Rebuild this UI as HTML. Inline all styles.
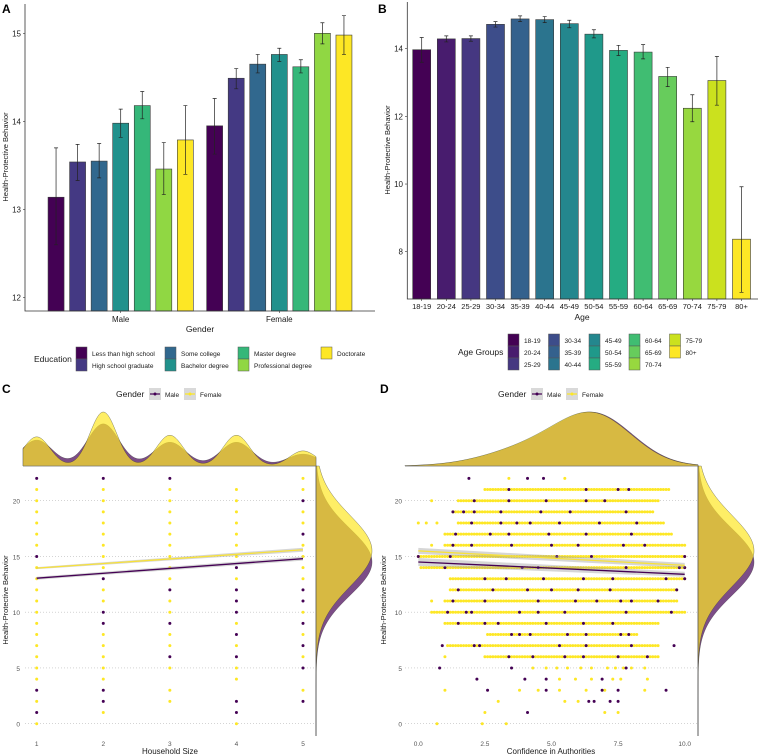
<!DOCTYPE html>
<html><head><meta charset="utf-8">
<style>
html,body{margin:0;padding:0;background:#fff;}
svg{display:block;font-family:"Liberation Sans",Arial,sans-serif;}
</style></head>
<body>
<svg id="fig" width="758" height="756" viewBox="0 0 758 756" xmlns="http://www.w3.org/2000/svg"></svg>
<script>
// ---------- DATA ----------
const eduCats = ["Less than high school","High school graduate","Some college","Bachelor degree","Master degree","Professional degree","Doctorate"];
const eduColors = ["#440154","#443983","#31688e","#21918c","#35b779","#90d743","#fde725"];
const genderCats = ["Male","Female"];
const maleMeans = [13.14,13.54,13.55,13.98,14.18,13.46,13.79];
const maleLo = [12.6,13.33,13.36,13.82,14.03,13.17,13.4];
const maleHi = [13.7,13.74,13.75,14.14,14.34,13.76,14.18];
const femaleMeans = [13.95,14.49,14.65,14.76,14.62,15.0,14.98];
const femaleLo = [13.63,14.37,14.55,14.68,14.55,14.88,14.76];
const femaleHi = [14.26,14.6,14.76,14.83,14.7,15.12,15.2];
const aTicks = [12,13,14,15];

const ageCats = ["18-19","20-24","25-29","30-34","35-39","40-44","45-49","50-54","55-59","60-64","65-69","70-74","75-79","80+"];
const ageColors = ["#440154","#481c6e","#453781","#3d4d8a","#34618d","#2b748e","#24878e","#1f998a","#25ac82","#40bd72","#67cc5c","#97d83f","#cbe11e","#fde725"];
const ageMeans = [13.97,14.29,14.3,14.72,14.88,14.86,14.74,14.43,13.95,13.9,13.18,12.24,13.06,8.37];
const ageLo = [13.6,14.2,14.22,14.64,14.8,14.77,14.62,14.32,13.8,13.7,12.88,11.84,12.33,6.8];
const ageHi = [14.33,14.38,14.38,14.8,14.97,14.95,14.84,14.56,14.1,14.12,13.45,12.64,13.77,9.92];
const bTicks = [8,10,12,14];

const cFemaleX = [1,2,3,4,5];
const cFemaleY = [
 [21,20,19,18,17,16,14,13,12,11,10,9,8,7,6,5,4,2,0],
 [21,20,19,18,17,16,15,14,12,11,8,7,6,5,4,1],
 [21,20,19,18,17,16,15,14,13,11,10,8,7,5,3,2],
 [21,20,19,18,17,16,15,13,9,7,5,4,0],
 [22,21,19,18,16,15,14,13,10,8,6,3]];
const cMaleY = [
 [22,15,3,1],
 [22,13,10,9,3,2],
 [22,12,9,6],
 [14,12,11,10,8,6,2,1],
 [20,17,12,11,9,7,5,2]];
const cFemaleFit = [13.95,15.6];
const cMaleFit = [13.05,14.8];
const cTopFemaleH = [0.54,1.0,0.57,0.57,0.28];
const cTopMaleH = [0.48,0.78,0.44,0.44,0.22];
const cxTicks = [1,2,3,4,5];
const cyTicks = [0,5,10,15,20];

const dRowY = [22,21,20,19,18,17,16,15,14,13,12,11,10,9,8,7,6,5,4,3,2,1,0];
const dFemaleRange = [null,[2.5,9.4],[1.5,9.0],[1.3,8.8],[1.5,9.2],[1.0,9.5],[1.0,10.0],[0.0,10.0],[0.1,10.0],[1.2,10.0],[1.2,9.7],[1.0,9.7],[0.5,10.0],[1.0,9.0],[2.6,8.2],[1.1,9.0],[2.5,9.0],null,null,null,null,null,null];
const dFemaleExtra = [[3.4,5.5],[],[0.5],[],[0.0,0.3,0.7],[],[0.5],[],[],[],[],[0.5],[],[],[],[],[1.0],[4.3,4.8,5.2,5.6,6.1,6.5,7.1,7.4,7.7,8.0,8.5],[5.3,5.9,6.5,7.3,7.6,8.6],[1.0,3.8,4.5,5.3,6.3,7.0,8.5],[3.0,5.5,6.0],[2.5,7.0,7.5],[0.7,2.4,3.3]];
const dMaleX = [[1.9,4.1,4.7],[3.4,6.3,7.5,7.9],[2.1,3.4,4.8,6.3,7.0],[1.3,1.7,2.1,3.1,4.6,5.7,7.8],[2.0,3.1,3.7,4.2,5.3,6.8,8.2],[1.4,2.7,3.4,4.9,6.3,8.0],[1.3,2.0,3.5,5.0,6.0,7.7,8.5],[0.0,1.2,5.2,6.5,10.0],[1.0,3.9,4.5,7.8,9.8,10.0],[2.5,3.3,4.7,6.2,7.3,9.3,10.0],[1.5,2.8,4.1,5.0,6.0,7.2,9.7],[1.3,2.5,4.5,5.9,6.7,7.6,8.0,9.0],[1.1,1.8,2.0,3.8,4.5,5.5,7.8,9.5],[1.5,2.5,3.0,4.8,6.2,7.3],[3.5,3.8,4.2,5.6,6.3,7.6,7.9],[0.9,2.1,2.3,5.3,6.3,8.0,9.6],[3.4,4.3,5.5,6.2,7.5,8.6],[0.8,3.5,7.8],[2.2,4.0,4.8,6.9],[2.6,4.8,6.9,7.5,9.3],[6.4,6.6,7.2,7.5],[4.1],[]];
const dFemaleFit = [15.5,14.2];
const dMaleFit = [14.5,13.4];
const dxTicks = [0,2.5,5,7.5,10];
const dxTickLabels = ["0.0","2.5","5.0","7.5","10.0"];
const dTopComp = [[6.7,1.4,1.0],[4.5,1.8,0.45]];
const rightFemaleComp = [[15.5,3.2,1.0]];
const rightMaleComp = [[14.5,3.0,1.0]];

// ---------- HELPERS ----------
const NS="http://www.w3.org/2000/svg";
const svg=document.getElementById('fig');
function mk(tag,attrs,parent,name,inter){
  const e=document.createElementNS(NS,tag);
  for(const k in attrs) e.setAttribute(k,attrs[k]);
  
  
  (parent||svg).appendChild(e); return e;
}
function txt(x,y,s,size,anchor,parent,name,extra){
  const t=mk('text',Object.assign({x:x,y:y,'font-size':size,'text-anchor':anchor||'start',fill:'#1a1a1a'},extra||{}),parent,name,false);
  t.textContent=s; return t;
}
function lin(d0,d1,r0,r1){return v=>r0+(v-d0)*(r1-r0)/(d1-d0);}
function gauss(x,m,s){return Math.exp(-(x-m)*(x-m)/(2*s*s));}

// ---------- PANEL A ----------
(function(){
  const g=mk('g',{},svg,'panel-a',false);
  txt(2,13,'A',12,'start',g,'panel-a-label',{'font-weight':'bold',fill:'#000'});
  const y=lin(12,15,297.7,33.3);
  const grpX=[120.7,279.3], step=21.55, bw=16;
  aTicks.forEach(t=>{
    txt(21,y(t)+3,String(t),8,'end',g,'a-y-tick-label');
    mk('line',{x1:23,x2:25,y1:y(t),y2:y(t),stroke:'#333','stroke-width':0.6},g,'a-y-tick',false);
  });
  const sets=[[maleMeans,maleLo,maleHi],[femaleMeans,femaleLo,femaleHi]];
  sets.forEach((s,gi)=>{
    s[0].forEach((v,i)=>{
      const cx=grpX[gi]+(i-3)*step;
      mk('rect',{x:cx-bw/2,y:y(v),width:bw,height:311-y(v),fill:eduColors[i],stroke:'#3a3a3a','stroke-width':0.6},g,'bar-'+genderCats[gi].toLowerCase()+'-'+i,true);
      mk('path',{d:`M${cx-2},${y(s[2][i])}H${cx+2}M${cx},${y(s[2][i])}V${y(s[1][i])}M${cx-2},${y(s[1][i])}H${cx+2}`,stroke:'#222','stroke-width':0.7,fill:'none'},g,'error-bar',false);
    });
    txt(grpX[gi],322,genderCats[gi],8,'middle',g,'a-x-tick-label');
    mk('line',{x1:grpX[gi],x2:grpX[gi],y1:311,y2:313,stroke:'#333','stroke-width':0.6},g,'a-x-tick',false);
  });
  mk('path',{d:'M25,4V311H375',stroke:'#333','stroke-width':0.8,fill:'none'},g,'a-axes',false);
  txt(200,332,'Gender',8.5,'middle',g,'a-x-axis-title');
  txt(0,0,'Health-Protective Behavior',7.5,'middle',g,'a-y-axis-title',{transform:'translate(8,157) rotate(-90)'});
  txt(34,362,'Education',8.5,'start',g,'a-legend-title');
  const cols=[76,165,238,321];
  eduCats.forEach((c,i)=>{
    const col=Math.floor(i/2), row=i%2;
    const ky=347+row*12;
    mk('rect',{x:cols[col],y:ky,width:11,height:12,fill:eduColors[i],stroke:'#555','stroke-width':0.5},g,'a-legend-key',true);
    txt(cols[col]+16,ky+9,c,6.5,'start',g,'a-legend-label');
  });
})();

// ---------- PANEL B ----------
(function(){
  const g=mk('g',{},svg,'panel-b',false);
  txt(378,13,'B',12,'start',g,'panel-b-label',{'font-weight':'bold',fill:'#000'});
  const y=lin(8,14,251.7,48.7);
  const x0=421.7, step=24.6, bw=18, base=299;
  bTicks.forEach(t=>{
    txt(403,y(t)+3,String(t),8,'end',g,'b-y-tick-label');
    mk('line',{x1:405,x2:407.3,y1:y(t),y2:y(t),stroke:'#333','stroke-width':0.6},g,'b-y-tick',false);
  });
  ageMeans.forEach((v,i)=>{
    const cx=x0+i*step;
    mk('rect',{x:cx-bw/2,y:y(v),width:bw,height:base-y(v),fill:ageColors[i],stroke:'#3a3a3a','stroke-width':0.6},g,'bar-age-'+ageCats[i],true);
    mk('path',{d:`M${cx-2},${y(ageHi[i])}H${cx+2}M${cx},${y(ageHi[i])}V${y(ageLo[i])}M${cx-2},${y(ageLo[i])}H${cx+2}`,stroke:'#222','stroke-width':0.7,fill:'none'},g,'error-bar',false);
    txt(cx,309,ageCats[i],7.5,'middle',g,'b-x-tick-label');
    mk('line',{x1:cx,x2:cx,y1:base,y2:base+2,stroke:'#333','stroke-width':0.6},g,'b-x-tick',false);
  });
  mk('path',{d:`M407.3,2V${base}H758`,stroke:'#333','stroke-width':0.8,fill:'none'},g,'b-axes',false);
  txt(582,320,'Age',8.5,'middle',g,'b-x-axis-title');
  txt(0,0,'Health-Protective Behavior',7.5,'middle',g,'b-y-axis-title',{transform:'translate(390,150) rotate(-90)'});
  txt(458,355,'Age Groups',8.5,'start',g,'b-legend-title');
  const cols=[508,548.5,589,629,669.5];
  ageCats.forEach((c,i)=>{
    const col=Math.floor(i/3), row=i%3;
    const ky=334+row*12;
    mk('rect',{x:cols[col],y:ky,width:11,height:12,fill:ageColors[i],stroke:'#555','stroke-width':0.5},g,'b-legend-key',true);
    txt(cols[col]+16,ky+9,c,6.5,'start',g,'b-legend-label');
  });
})();

const PURPLE='#440154', YELLOW='#fde725';
function genderLegend(g,x0,prefix){
  txt(x0,397,'Gender',8.5,'start',g,prefix+'-legend-title');
  [[PURPLE,'Male'],[YELLOW,'Female']].forEach((k,i)=>{
    const kx=x0+33+i*35;
    mk('rect',{x:kx,y:388,width:12,height:12,fill:'#d9d9d9'},g,prefix+'-legend-key',true);
    mk('line',{x1:kx+1,x2:kx+11,y1:394,y2:394,stroke:k[0],'stroke-width':1.2},g,prefix+'-legend-line',false);
    mk('circle',{cx:kx+6,cy:394,r:1.5,fill:k[0]},g,prefix+'-legend-dot',false);
    txt(kx+16,397,k[1],6.5,'start',g,prefix+'-legend-label');
  });
}
function rightDensity(g,bx,ytop,ybot,ys,prefix){
  const fm=v=>rightFemaleComp.reduce((a,c)=>a+c[2]*gauss(v,c[0],c[1]),0);
  const mm=v=>rightMaleComp.reduce((a,c)=>a+c[2]*gauss(v,c[0],c[1]),0);
  const W=56;
  function path(f){
    let d=`M${bx},${ybot}`;
    for(let py=ybot;py>=ytop;py-=1){const v=ys.inv(py);d+=`L${bx+W*f(v)},${py}`;}
    return d+`L${bx},${ytop}Z`;
  }
  mk('path',{d:path(mm),fill:PURPLE,'fill-opacity':0.7,stroke:'#333','stroke-width':0.3},g,prefix+'-right-density-male',false);
  mk('path',{d:path(fm),fill:YELLOW,'fill-opacity':0.7,stroke:'#333','stroke-width':0.3},g,prefix+'-right-density-female',false);
}
function fitLine(g,xs,ys,x0,x1,fit,color,name,ci){
  const xa=xs(x0),xb=xs(x1),ya=ys(fit[0]),yb=ys(fit[1]);
  mk('path',{d:`M${xa},${ya-ci[0]}L${xb},${yb-ci[1]}L${xb},${yb+ci[1]}L${xa},${ya+ci[0]}Z`,fill:'#999','fill-opacity':0.4},g,name+'-ci',false);
  mk('line',{x1:xa,y1:ya,x2:xb,y2:yb,stroke:color,'stroke-width':1.3},g,name,false);
}

// ---------- PANEL C ----------
(function(){
  const g=mk('g',{},svg,'panel-c',false);
  txt(2,393,'C',12,'start',g,'panel-c-label',{'font-weight':'bold',fill:'#000'});
  genderLegend(g,116,'c');
  const xs=lin(1,5,36.7,303), ys=lin(0,20,723.7,500.7);
  ys.inv=lin(723.7,500.7,0,20);
  cyTicks.forEach(t=>{
    mk('line',{x1:25,x2:316,y1:ys(t),y2:ys(t),stroke:'#bbb','stroke-width':0.6,'stroke-dasharray':'1,2'},g,'c-gridline',false);
    txt(20,ys(t)+3,String(t),6.5,'end',g,'c-y-tick-label',{fill:'#555'});
  });
  cxTicks.forEach(t=>txt(xs(t),746,String(t),6.5,'middle',g,'c-x-tick-label',{fill:'#555'}));
  const base=466, H=54;
  const fF=v=>cTopFemaleH.reduce((a,h,i)=>a+h*gauss(v,cFemaleX[i],0.2),0);
  const fM=v=>cTopMaleH.reduce((a,h,i)=>a+h*gauss(v,cFemaleX[i],0.24),0);
  function tp(f){let d=`M23,${base}`;for(let px=23;px<=316;px++){d+=`L${px},${base-H*f((px-36.7)/66.575+1)}`;}return d+`L316,${base}Z`;}
  mk('path',{d:tp(fM),fill:PURPLE,'fill-opacity':0.7,stroke:'#333','stroke-width':0.3},g,'c-top-density-male',false);
  mk('path',{d:tp(fF),fill:YELLOW,'fill-opacity':0.7,stroke:'#333','stroke-width':0.3},g,'c-top-density-female',false);
  mk('line',{x1:23,x2:316,y1:base,y2:base,stroke:'#888','stroke-width':0.6},g,'c-top-baseline',false);
  rightDensity(g,316,466,736,ys,'c');
  mk('line',{x1:316,x2:316,y1:466,y2:736,stroke:'#555','stroke-width':0.6},g,'c-right-baseline',false);
  cFemaleX.forEach((xv,i)=>{
    cFemaleY[i].forEach(v=>mk('circle',{cx:xs(xv),cy:ys(v),r:1.5,fill:YELLOW},g,'c-point-female',false));
    cMaleY[i].forEach(v=>mk('circle',{cx:xs(xv),cy:ys(v),r:1.5,fill:PURPLE},g,'c-point-male',false));
  });
  fitLine(g,xs,ys,1,5,cMaleFit,PURPLE,'c-fit-male',[1.5,2]);
  fitLine(g,xs,ys,1,5,cFemaleFit,'#f7e13a','c-fit-female',[1,2]);
  txt(170,754,'Household Size',8,'middle',g,'c-x-axis-title');
  txt(0,0,'Health-Protective Behavior',7.5,'middle',g,'c-y-axis-title',{transform:'translate(8,600) rotate(-90)'});
})();

// ---------- PANEL D ----------
(function(){
  const g=mk('g',{},svg,'panel-d',false);
  txt(380,393,'D',12,'start',g,'panel-d-label',{'font-weight':'bold',fill:'#000'});
  genderLegend(g,498,'d');
  const xs=lin(0,10,418.3,684.7), ys=lin(0,20,723.7,500.7);
  ys.inv=lin(723.7,500.7,0,20);
  cyTicks.forEach(t=>{
    mk('line',{x1:405,x2:698,y1:ys(t),y2:ys(t),stroke:'#bbb','stroke-width':0.6,'stroke-dasharray':'1,2'},g,'d-gridline',false);
    txt(402,ys(t)+3,String(t),6.5,'end',g,'d-y-tick-label',{fill:'#555'});
  });
  dxTicks.forEach((t,i)=>txt(xs(t),746,dxTickLabels[i],6.5,'middle',g,'d-x-tick-label',{fill:'#555'}));
  const base=466,H=54;
  const f=v=>dTopComp.reduce((a,c)=>a+c[2]*gauss(v,c[0],c[1]),0);
  let mx=0;for(let v=0;v<=10;v+=0.05)mx=Math.max(mx,f(v));
  function tp(sh){let d=`M405,${base}`;for(let px=405;px<=698;px++){d+=`L${px},${base-H*f((px-418.3)/26.64+sh)/mx}`;}return d+`L698,${base}Z`;}
  mk('path',{d:tp(-0.05),fill:PURPLE,'fill-opacity':0.7,stroke:'#333','stroke-width':0.3},g,'d-top-density-male',false);
  mk('path',{d:tp(0),fill:YELLOW,'fill-opacity':0.7,stroke:'#333','stroke-width':0.3},g,'d-top-density-female',false);
  mk('line',{x1:405,x2:698,y1:base,y2:base,stroke:'#888','stroke-width':0.6},g,'d-top-baseline',false);
  rightDensity(g,698,466,736,ys,'d');
  mk('line',{x1:698,x2:698,y1:466,y2:736,stroke:'#555','stroke-width':0.6},g,'d-right-baseline',false);
  dRowY.forEach((yv,i)=>{
    const r=dFemaleRange[i];
    if(r){for(let xv=r[0];xv<=r[1]+1e-6;xv+=0.1)mk('circle',{cx:xs(xv),cy:ys(yv),r:1.5,fill:YELLOW},g,'d-point-female',false);}
    dFemaleExtra[i].forEach(xv=>mk('circle',{cx:xs(xv),cy:ys(yv),r:1.5,fill:YELLOW},g,'d-point-female',false));
  });
  dRowY.forEach((yv,i)=>{
    dMaleX[i].forEach(xv=>mk('circle',{cx:xs(xv),cy:ys(yv),r:1.5,fill:PURPLE},g,'d-point-male',false));
  });
  fitLine(g,xs,ys,0,10,dFemaleFit,'#f7e13a','d-fit-female',[3,2.5]);
  fitLine(g,xs,ys,0,10,dMaleFit,PURPLE,'d-fit-male',[4,2.5]);
  txt(551,754,'Confidence in Authorities',8,'middle',g,'d-x-axis-title');
  txt(0,0,'Health-Protective Behavior',7.5,'middle',g,'d-y-axis-title',{transform:'translate(386,600) rotate(-90)'});
})();
</script>
</body></html>
